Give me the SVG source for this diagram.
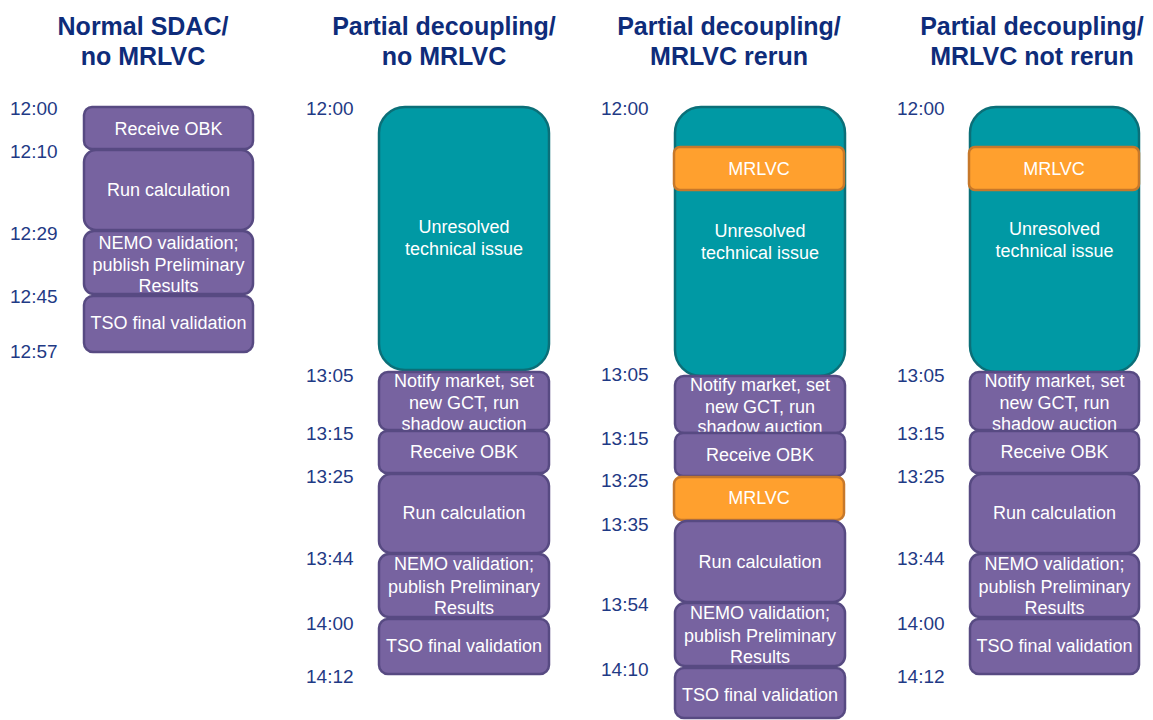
<svg xmlns="http://www.w3.org/2000/svg" width="1153" height="720" viewBox="0 0 1153 720">
<style>
.title{font-family:"Liberation Sans",Arial,sans-serif;font-weight:bold;font-size:25px;fill:#0E2C7A;text-anchor:middle}
.time{font-family:"Liberation Sans",Arial,sans-serif;font-size:19px;fill:#1F3A85}
.p{fill:#7763A0;stroke:#574A82;stroke-width:2.5}
.t{fill:#0099A4;stroke:#0B6F78;stroke-width:2.5}
.o{fill:#FFA02E;stroke:#C7782A;stroke-width:2.5}
.lbl{font-family:"Liberation Sans",Arial,sans-serif;font-size:18px;fill:#FFFFFF;text-anchor:middle}
</style>
<rect width="1153" height="720" fill="#FFFFFF"/>
<g id="titles">
<text class="title" x="143" y="35">Normal SDAC/</text>
<text class="title" x="143" y="65">no MRLVC</text>
<text class="title" x="444" y="35">Partial decoupling/</text>
<text class="title" x="444" y="65">no MRLVC</text>
<text class="title" x="729" y="35">Partial decoupling/</text>
<text class="title" x="729" y="65">MRLVC rerun</text>
<text class="title" x="1032" y="35">Partial decoupling/</text>
<text class="title" x="1032" y="65">MRLVC not rerun</text>
</g>
<g id="times">
<text class="time" x="10" y="115">12:00</text>
<text class="time" x="10" y="158">12:10</text>
<text class="time" x="10" y="240">12:29</text>
<text class="time" x="10" y="303">12:45</text>
<text class="time" x="10" y="358">12:57</text>
<text class="time" x="306" y="115">12:00</text>
<text class="time" x="306" y="382">13:05</text>
<text class="time" x="306" y="440">13:15</text>
<text class="time" x="306" y="483">13:25</text>
<text class="time" x="306" y="565">13:44</text>
<text class="time" x="306" y="630">14:00</text>
<text class="time" x="306" y="683">14:12</text>
<text class="time" x="601" y="115">12:00</text>
<text class="time" x="601" y="381">13:05</text>
<text class="time" x="601" y="445">13:15</text>
<text class="time" x="601" y="487">13:25</text>
<text class="time" x="601" y="531">13:35</text>
<text class="time" x="601" y="611">13:54</text>
<text class="time" x="601" y="676">14:10</text>
<text class="time" x="897" y="115">12:00</text>
<text class="time" x="897" y="382">13:05</text>
<text class="time" x="897" y="440">13:15</text>
<text class="time" x="897" y="483">13:25</text>
<text class="time" x="897" y="565">13:44</text>
<text class="time" x="897" y="630">14:00</text>
<text class="time" x="897" y="683">14:12</text>
</g>
<g id="connectors"></g>
<!-- Column 1 -->
<g id="c1-receive"><rect class="p" x="84" y="107" width="169" height="42" rx="8"/><text class="lbl" x="168.5" y="135">Receive OBK</text></g>
<g id="c1-run"><rect class="p" x="84" y="150" width="169" height="80" rx="12"/><text class="lbl" x="168.5" y="196">Run calculation</text></g>
<g id="c1-nemo"><rect class="p" x="84" y="231" width="169" height="63" rx="10"/><text class="lbl" x="168.5" y="249">NEMO validation;</text><text class="lbl" x="168.5" y="271">publish Preliminary</text><text class="lbl" x="168.5" y="292">Results</text></g>
<g id="c1-tso"><rect class="p" x="84" y="296" width="169" height="56" rx="9"/><text class="lbl" x="168.5" y="329">TSO final validation</text></g>
<!-- Column 2 -->
<g id="c2-issue"><rect class="t" x="379" y="107" width="170" height="263" rx="26"/><text class="lbl" x="464" y="233">Unresolved</text><text class="lbl" x="464" y="255">technical issue</text></g>
<g id="c2-notify"><rect class="p" x="379" y="372" width="170" height="58" rx="9"/><text class="lbl" x="464" y="387">Notify market, set</text><text class="lbl" x="464" y="409">new GCT, run</text><text class="lbl" x="464" y="430">shadow auction</text></g>
<g id="c2-receive"><rect class="p" x="379" y="431" width="170" height="42" rx="8"/><text class="lbl" x="464" y="458">Receive OBK</text></g>
<g id="c2-run"><rect class="p" x="379" y="474" width="170" height="79" rx="12"/><text class="lbl" x="464" y="519">Run calculation</text></g>
<g id="c2-nemo"><rect class="p" x="379" y="554" width="170" height="63" rx="10"/><text class="lbl" x="464" y="570">NEMO validation;</text><text class="lbl" x="464" y="593">publish Preliminary</text><text class="lbl" x="464" y="614">Results</text></g>
<g id="c2-tso"><rect class="p" x="379" y="619" width="170" height="55" rx="9"/><text class="lbl" x="464" y="652">TSO final validation</text></g>
<!-- Column 3 -->
<g id="c3-issue"><rect class="t" x="675" y="107" width="170" height="269" rx="26"/><text class="lbl" x="760" y="237">Unresolved</text><text class="lbl" x="760" y="259">technical issue</text></g>
<g id="c3-mrlvc1"><rect class="o" x="674" y="147" width="170" height="43" rx="6"/><text class="lbl" x="759" y="175">MRLVC</text></g>
<g id="c3-notify"><rect class="p" x="675" y="376" width="170" height="57" rx="9"/><text class="lbl" x="760" y="391">Notify market, set</text><text class="lbl" x="760" y="413">new GCT, run</text><text class="lbl" x="760" y="433">shadow auction</text></g>
<g id="c3-receive"><rect class="p" x="675" y="433" width="170" height="43" rx="8"/><text class="lbl" x="760" y="461">Receive OBK</text></g>
<g id="c3-mrlvc2"><rect class="o" x="674" y="477" width="170" height="43" rx="7"/><text class="lbl" x="759" y="504">MRLVC</text></g>
<g id="c3-run"><rect class="p" x="675" y="521" width="170" height="81" rx="12"/><text class="lbl" x="760" y="568">Run calculation</text></g>
<g id="c3-nemo"><rect class="p" x="675" y="603" width="170" height="63" rx="10"/><text class="lbl" x="760" y="619">NEMO validation;</text><text class="lbl" x="760" y="642">publish Preliminary</text><text class="lbl" x="760" y="663">Results</text></g>
<g id="c3-tso"><rect class="p" x="675" y="668" width="170" height="50" rx="9"/><text class="lbl" x="760" y="701">TSO final validation</text></g>
<!-- Column 4 -->
<g id="c4-issue"><rect class="t" x="970" y="107" width="169" height="265" rx="26"/><text class="lbl" x="1054.5" y="235">Unresolved</text><text class="lbl" x="1054.5" y="257">technical issue</text></g>
<g id="c4-mrlvc"><rect class="o" x="969" y="147" width="170" height="43" rx="6"/><text class="lbl" x="1054" y="175">MRLVC</text></g>
<g id="c4-notify"><rect class="p" x="970" y="372" width="169" height="58" rx="9"/><text class="lbl" x="1054.5" y="387">Notify market, set</text><text class="lbl" x="1054.5" y="409">new GCT, run</text><text class="lbl" x="1054.5" y="430">shadow auction</text></g>
<g id="c4-receive"><rect class="p" x="970" y="431" width="169" height="42" rx="8"/><text class="lbl" x="1054.5" y="458">Receive OBK</text></g>
<g id="c4-run"><rect class="p" x="970" y="474" width="169" height="79" rx="12"/><text class="lbl" x="1054.5" y="519">Run calculation</text></g>
<g id="c4-nemo"><rect class="p" x="970" y="554" width="169" height="63" rx="10"/><text class="lbl" x="1054.5" y="570">NEMO validation;</text><text class="lbl" x="1054.5" y="593">publish Preliminary</text><text class="lbl" x="1054.5" y="614">Results</text></g>
<g id="c4-tso"><rect class="p" x="970" y="619" width="169" height="55" rx="9"/><text class="lbl" x="1054.5" y="652">TSO final validation</text></g>
</svg>
